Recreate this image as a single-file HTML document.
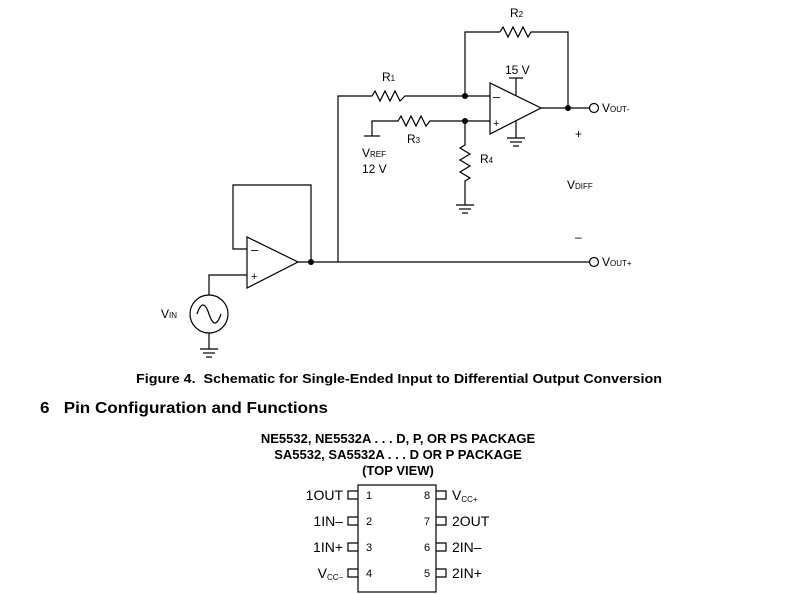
<!DOCTYPE html>
<html><head><meta charset="utf-8"><style>
html,body{margin:0;padding:0;background:#fff;}
svg{display:block;font-family:"Liberation Sans",Arial,sans-serif;}
</style></head><body>
<svg width="790" height="594" viewBox="0 0 790 594" xmlns="http://www.w3.org/2000/svg">
<g fill="none" stroke="#000" stroke-width="1.2">
<polyline points="465,96 465,32 500,32"/>
<polyline points="500,32 503,27 508,37 513,27 518,37 523,27 528,37 531,32 568,32 568,108"/>
<polyline points="338,262 338,96 372,96 375,91 380,101 385,91 390,101 395,91 400,101 405,96 490,96"/>
<polyline points="364,136 380,136"/>
<polyline points="372,136 372,121 398,121 401,116 406,126 411,116 416,126 421,116 426,126 430,121 490,121"/>
<polyline points="465,121 465,145 460,148 470,154 460,160 470,166 460,172 470,178 465,181 465,205"/>
<line x1="456" y1="205" x2="474" y2="205"/><line x1="459" y1="209" x2="471" y2="209"/><line x1="462" y1="213" x2="468" y2="213"/>
<polygon points="490,83 490,134 541,108"/>
<line x1="516" y1="78" x2="516" y2="95"/><line x1="509" y1="78" x2="523" y2="78"/>
<line x1="516" y1="121" x2="516" y2="138"/>
<line x1="507" y1="138" x2="525" y2="138"/><line x1="510" y1="142" x2="522" y2="142"/><line x1="513" y1="146" x2="519" y2="146"/>
<line x1="541" y1="108" x2="590" y2="108"/>
<circle cx="594" cy="108" r="4.5"/>
<polygon points="247,237 247,288 298,262"/>
<polyline points="247,249 233,249 233,185 311,185 311,262"/>
<line x1="298" y1="262" x2="590" y2="262"/>
<circle cx="594" cy="262" r="4.5"/>
<polyline points="247,275 209,275 209,295"/>
<circle cx="209" cy="314" r="19"/>
<path d="M197,314 C201,302 205,302 209,314 C213,326 217,326 221,314"/>
<line x1="209" y1="333" x2="209" y2="349"/>
<line x1="200" y1="349" x2="218" y2="349"/><line x1="203" y1="353" x2="215" y2="353"/><line x1="206" y1="357" x2="212" y2="357"/>
<rect x="358" y="485" width="78" height="107"/>
<polyline points="358,491 348,491 348,499 358,499"/><polyline points="358,517 348,517 348,525 358,525"/><polyline points="358,543 348,543 348,551 358,551"/><polyline points="358,569 348,569 348,577 358,577"/>
<polyline points="436,491 446,491 446,499 436,499"/><polyline points="436,517 446,517 446,525 436,525"/><polyline points="436,543 446,543 446,551 436,551"/><polyline points="436,569 446,569 446,577 436,577"/>
</g>
<g fill="#000">
<circle cx="465" cy="96" r="3"/><circle cx="465" cy="121" r="3"/><circle cx="568" cy="108" r="3"/><circle cx="311" cy="262" r="3"/>
</g>
<g fill="#000" font-size="12">
<text x="510" y="17">R<tspan font-size="8">2</tspan></text>
<text x="505" y="74">15 V</text>
<text x="382" y="81">R<tspan font-size="8">1</tspan></text>
<text x="407" y="143">R<tspan font-size="8">3</tspan></text>
<text x="480" y="163">R<tspan font-size="8">4</tspan></text>
<text x="362" y="157">V<tspan font-size="8">REF</tspan></text>
<text x="362" y="173">12 V</text>
<text x="493" y="101" font-size="13">–</text>
<text x="493" y="127" font-size="11">+</text>
<text x="251" y="254" font-size="13">–</text>
<text x="251" y="280" font-size="11">+</text>
<text x="602" y="112">V<tspan font-size="8">OUT-</tspan></text>
<text x="575" y="138">+</text>
<text x="567" y="189">V<tspan font-size="8">DIFF</tspan></text>
<text x="575" y="241">–</text>
<text x="602" y="266">V<tspan font-size="8">OUT+</tspan></text>
<text x="161" y="318">V<tspan font-size="8">IN</tspan></text>
<text x="136" y="383" font-size="13" font-weight="bold" textLength="526" lengthAdjust="spacingAndGlyphs">Figure 4.&#160; Schematic for Single-Ended Input to Differential Output Conversion</text>
<text x="40" y="413" font-size="16" font-weight="bold" textLength="288" lengthAdjust="spacingAndGlyphs">6&#160;&#160; Pin Configuration and Functions</text>
<g font-size="13" font-weight="bold" text-anchor="middle">
<text x="398" y="443">NE5532, NE5532A . . . D, P, OR PS PACKAGE</text>
<text x="398" y="459">SA5532, SA5532A . . . D OR P PACKAGE</text>
<text x="398" y="475">(TOP VIEW)</text>
</g>
<g font-size="14" text-anchor="end">
<text x="343" y="500">1OUT</text><text x="343" y="526">1IN–</text><text x="343" y="552">1IN+</text>
<text x="343" y="578">V<tspan font-size="8" dy="2">CC–</tspan></text>
</g>
<g font-size="11">
<text x="366" y="499">1</text><text x="366" y="525">2</text><text x="366" y="551">3</text><text x="366" y="577">4</text>
<text x="424" y="499">8</text><text x="424" y="525">7</text><text x="424" y="551">6</text><text x="424" y="577">5</text>
</g>
<g font-size="14">
<text x="452" y="500">V<tspan font-size="8" dy="2">CC+</tspan></text>
<text x="452" y="526">2OUT</text><text x="452" y="552">2IN–</text><text x="452" y="578">2IN+</text>
</g>
</g>
</svg>
</body></html>
